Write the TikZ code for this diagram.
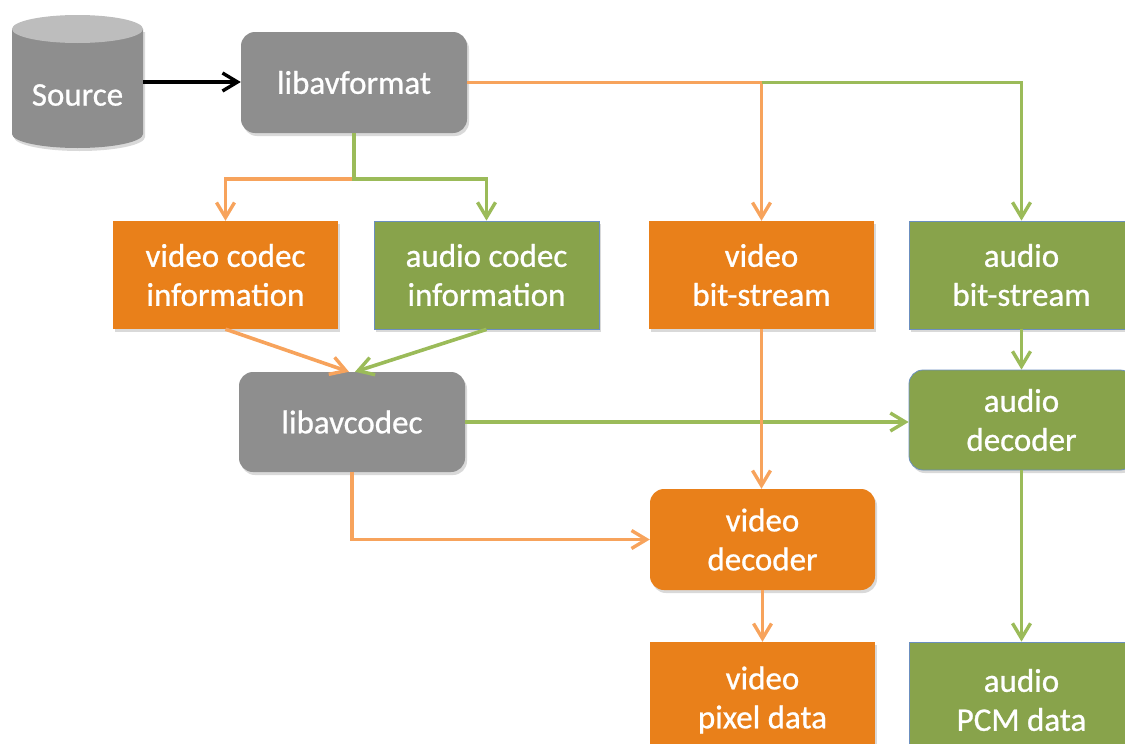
\documentclass[tikz,border=0pt]{standalone}
\usepackage{fontspec}
\setmainfont{Carlito}[BoldFont=Carlito,BoldFeatures={FakeBold=0.8}]
\usetikzlibrary{arrows.meta,shadows,calc}
\definecolor{boxgray}{HTML}{8E8E8E}
\definecolor{cyltop}{HTML}{BDBDBD}
\definecolor{boxorange}{HTML}{E9801A}
\definecolor{boxgreen}{HTML}{88A34B}
\definecolor{lineorange}{HTML}{F7A35C}
\definecolor{linegreen}{HTML}{9BBB59}
\definecolor{edgeblue}{HTML}{6B8FBF}
\begin{document}
\begin{tikzpicture}[x=1pt,y=-1pt,
  txt/.style={text=white,font=\fontsize{33}{39}\selectfont\bfseries,align=center,inner sep=0pt},
  shad/.style={drop shadow={shadow xshift=2pt,shadow yshift=-3pt,opacity=0.25,fill=black!60}},
  graybox/.style={txt,shad,fill=boxgray,rounded corners=14pt,minimum width=226pt,minimum height=101pt},
  orect/.style={txt,shad,fill=boxorange,minimum width=225pt,minimum height=108pt},
  grect/.style={txt,shad,fill=boxgreen,draw=edgeblue,line width=0.8pt,minimum width=225pt,minimum height=108pt},
  oround/.style={orect,rounded corners=14pt,minimum height=101pt},
  ground/.style={grect,rounded corners=14pt,minimum height=100pt},
  arr/.style={line width=3.6pt,-{Straight Barb[length=15pt,width=18pt,line width=3.4pt]}},
  ol/.style={arr,draw=lineorange},
  gl/.style={arr,draw=linegreen}
]
\useasboundingbox (0,0) rectangle (1125,744);
% Source cylinder
\fill[boxgray,shad] (12,29) -- (12,134) arc[start angle=180,end angle=360,x radius=65.5pt,y radius=14pt] -- (143,29) -- cycle;
\fill[cyltop] (77.5,29) ellipse[x radius=65.5pt,y radius=14pt];
\node[minimum width=131pt,minimum height=133pt,inner sep=0pt] (src) at (77.5,82) {};
\node[txt] (srclabel) at (77.5,95) {Source};

\node[graybox] (fmt) at (354,82.5) {libavformat};
\node[orect] (vci) at (225.5,275) {video codec\\information};
\node[grect] (aci) at (486.5,275) {audio codec\\information};
\node[orect] (vbs) at (761.5,275) {video\\bit-stream};
\node[grect] (abs) at (1021.5,275) {audio\\bit-stream};
\node[graybox,minimum height=100pt] (codec) at (352,422) {libavcodec};
\node[ground] (adec) at (1021.5,420) {audio\\decoder};
\node[oround] (vdec) at (762.5,539.5) {video\\decoder};
\node[orect,minimum height=116pt] (vpix) at (762.5,700) {video\\pixel data};
\node[grect,minimum height=116pt] (apcm) at (1021.5,700) {audio\\PCM data};

% connectors
\draw[arr,draw=black] (src.east) -- (src.east -| fmt.west);
\coordinate (j1) at ($(fmt.south)+(0,45.5)$);
\draw[ol] (j1) -| (vci.north);
\draw[gl] (fmt.south) -- (j1) -| (aci.north);
\coordinate (j2) at (vbs.north |- fmt.east);
\draw[ol] (fmt.east) -| (vbs.north);
\draw[gl] (j2) -| (abs.north);
\draw[ol] (vci.south) -- ([xshift=-3pt]codec.north);
\draw[gl] (aci.south) -- ([xshift=3pt]codec.north);
\draw[gl] (codec.east) -- (codec.east -| adec.west);
\draw[gl] (abs.south) -- (adec.north);
\draw[ol] (vbs.south) -- (vbs.south |- vdec.north);
\draw[ol] (codec.south) |- (vdec.west);
\draw[ol] (vdec.south) -- (vpix.north);
\draw[gl] (adec.south) -- (apcm.north);
\end{tikzpicture}
\end{document}
